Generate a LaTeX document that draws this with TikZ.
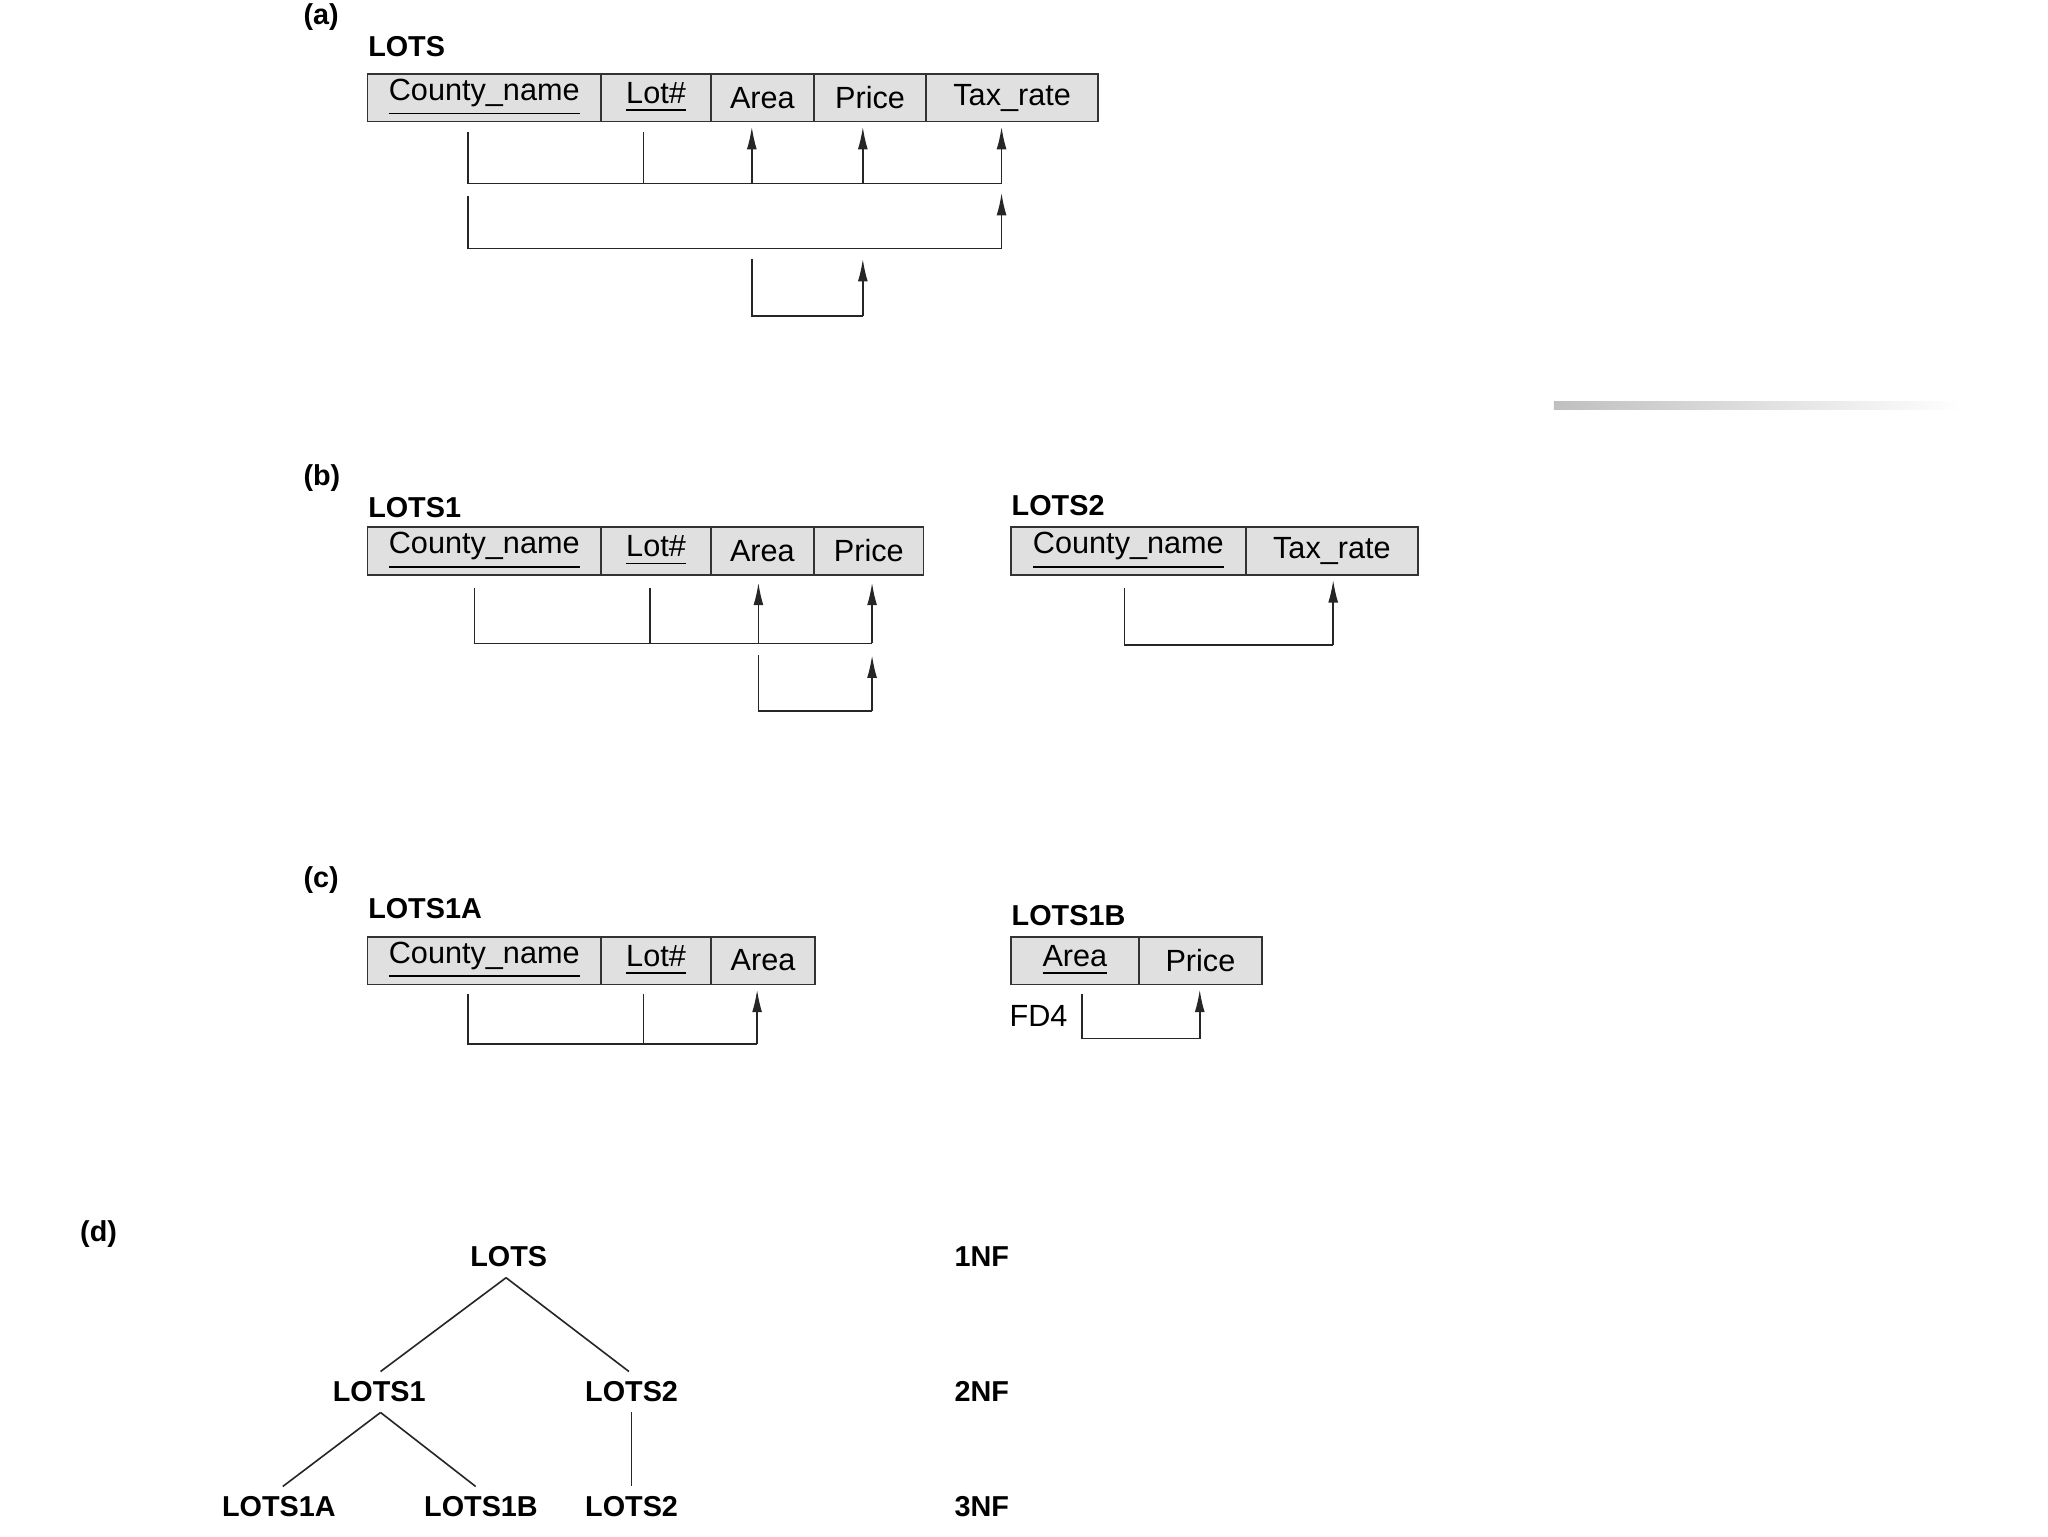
\documentclass[tikz,border=0pt]{standalone}
\usepackage{fontspec}
\setmainfont{Liberation Sans}
\usetikzlibrary{arrows.meta}
\tikzset{
  cellbox/.style = {draw=black!80, fill=black!12, line width=0.35pt},
  celltext/.style = {font=\fontsize{6.6}{8}\selectfont, inner sep=0pt},
  title/.style = {font=\fontsize{6.2}{8}\selectfont\bfseries, anchor=west, inner sep=0pt},
  fd/.style = {draw=black!85, line width=0.35pt},
  fdarrow/.style = {fd, -{Latex[length=1.7mm, width=0.75mm]}},
  tree/.style = {draw=black!85, line width=0.35pt},
}
% \cell{name}{x1}{x2}{y1}{y2}{text}
\newcommand{\cell}[6]{%
  \draw[cellbox] (#2,#4) rectangle (#3,#5);
  \node[celltext] (#1) at ({(#2+#3)/2},{(#4+#5)/2}) {#6};
}
\begin{document}
\begin{tikzpicture}[x=0.1mm, y=-0.1mm]
  \useasboundingbox (0,0) rectangle (1550,1162.5);
  %% (a)
  \node[title] (la) at (229,13) {(a)};
  \node[title] (tLots) at (278,35) {LOTS};
  \cell{aCounty}{278}{455}{56}{92}{\underline{County\_name}}
  \cell{aLot}{455}{538}{56}{92}{\underline{Lot\#}}
  \cell{aArea}{538}{616}{56}{92}{Area}
  \cell{aPrice}{616}{701}{56}{92}{Price}
  \cell{aTax}{701}{831}{56}{92}{Tax\_rate}
  \draw[fd] (354,100) |- (758,139);
  \draw[fd] (487,100) -- (487,139);
  \draw[fdarrow] (569,139) -- (569,96);
  \draw[fdarrow] (653,139) -- (653,96);
  \draw[fdarrow] (758,139) -- (758,96);
  \draw[fd] (354,148) |- (758,188);
  \draw[fdarrow] (758,188) -- (758,146);
  \draw[fd] (569,196) |- (653,239);
  \draw[fdarrow] (653,239) -- (653,196);
  %% grey bar
  \shade[left color=black!25, right color=white] (1176,304) rectangle (1485,310);
  %% (b)
  \node[title] (lb) at (229,362) {(b)};
  \node[title] (tLotsOne) at (278,384) {LOTS1};
  \cell{bCounty}{278}{455}{399}{435}{\underline{County\_name}}
  \cell{bLot}{455}{538}{399}{435}{\underline{Lot\#}}
  \cell{bArea}{538}{616}{399}{435}{Area}
  \cell{bPrice}{616}{699}{399}{435}{Price}
  \draw[fd] (359,445) |- (660,487);
  \draw[fd] (492,445) -- (492,487);
  \draw[fdarrow] (574,487) -- (574,441);
  \draw[fdarrow] (660,487) -- (660,441);
  \draw[fd] (574,496) |- (660,538);
  \draw[fdarrow] (660,538) -- (660,496);
  \node[title] (tLotsTwo) at (765,383) {LOTS2};
  \cell{cCounty}{765}{943}{399}{435}{\underline{County\_name}}
  \cell{cTax}{943}{1073}{399}{435}{Tax\_rate}
  \draw[fd] (851,445) |- (1009,488);
  \draw[fdarrow] (1009,488) -- (1009,439);
  %% (c)
  \node[title] (lc) at (229,666) {(c)};
  \node[title] (tLotsOneA) at (278,688) {LOTS1A};
  \cell{dCounty}{278}{455}{709}{745}{\underline{County\_name}}
  \cell{dLot}{455}{538}{709}{745}{\underline{Lot\#}}
  \cell{dArea}{538}{617}{709}{745}{Area}
  \draw[fd] (354,752) |- (573,790);
  \draw[fd] (487,752) -- (487,790);
  \draw[fdarrow] (573,790) -- (573,749);
  \node[title] (tLotsOneB) at (765,693) {LOTS1B};
  \cell{eArea}{765}{862}{709}{745}{\underline{Area}}
  \cell{ePrice}{862}{955}{709}{745}{Price}
  \node[celltext] (fdfour) at (786,769) {FD4};
  \draw[fd] (819,752) |- (908,786);
  \draw[fdarrow] (908,786) -- (908,749);
  %% (d)
  \node[title] (ld) at (60,934) {(d)};
  \node[title, anchor=center] (nLots) at (385,951) {LOTS};
  \node[title, anchor=center] (nOne) at (287,1053) {LOTS1};
  \node[title, anchor=center] (nTwo) at (478,1053) {LOTS2};
  \node[title, anchor=center] (nOneA) at (211,1140) {LOTS1A};
  \node[title, anchor=center] (nOneB) at (364,1140) {LOTS1B};
  \node[title, anchor=center] (nTwoB) at (478,1140) {LOTS2};
  \node[title, anchor=center] (nfOne) at (743,951) {1NF};
  \node[title, anchor=center] (nfTwo) at (743,1053) {2NF};
  \node[title, anchor=center] (nfThree) at (743,1140) {3NF};
  \draw[tree] (nLots.south) ++(0,-6) coordinate (lotsBot);
  \draw[tree] (383,967) -- (288,1038);
  \draw[tree] (383,967) -- (476,1038);
  \draw[tree] (288,1069) -- (214,1125);
  \draw[tree] (288,1069) -- (360,1125);
  \draw[tree] (478,1069) -- (478,1125);
\end{tikzpicture}
\end{document}
